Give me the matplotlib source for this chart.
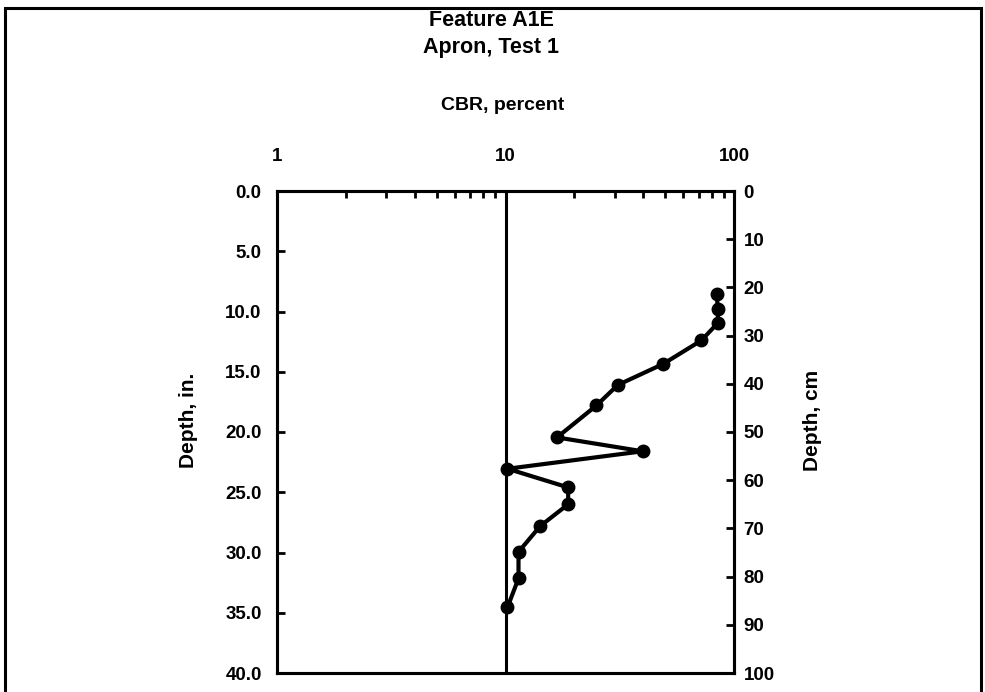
import matplotlib
matplotlib.use("Agg")
import matplotlib.pyplot as plt
from matplotlib.ticker import NullFormatter, LogLocator
from matplotlib.patches import Rectangle

plt.rcParams['font.family'] = ['Liberation Sans', 'DejaVu Sans']
plt.rcParams['font.weight'] = 'bold'

title_lines = ["Feature A1E", "Apron, Test 1"]
x_label = "CBR, percent"
y_label_left = "Depth, in."
y_label_right = "Depth, cm"

cbr = [84, 85, 85, 72, 49, 31, 25, 16.8, 39.8, 10.2, 18.8, 18.8, 14.2, 11.4, 11.4, 10.2]
depth_in = [8.55, 9.8, 10.95, 12.4, 14.35, 16.1, 17.8, 20.45, 21.6, 23.05, 24.6, 26.0, 27.8, 29.95, 32.15, 34.55]

ref_cbr = 10
x_ticks = [1, 10, 100]
y_ticks_in = [0, 5, 10, 15, 20, 25, 30, 35, 40]
y_ticks_cm = [0, 10, 20, 30, 40, 50, 60, 70, 80, 90, 100]

fig = plt.figure(figsize=(9.85, 6.92), dpi=100)
ax = fig.add_axes([277/985, 19/692, 457/985, 482/692])

ax.plot(cbr, depth_in, color='black', lw=3, marker='o', ms=9, zorder=3, clip_on=False)
ax.axvline(ref_cbr, color='black', lw=2.2, zorder=2)

ax.set_xscale('log')
ax.set_xlim(1, 100)
ax.set_ylim(40, 0)
ax.xaxis.set_ticks_position('top')
ax.xaxis.set_label_position('top')
ax.set_xticks(x_ticks)
ax.set_xticklabels([str(v) for v in x_ticks])
ax.xaxis.set_minor_locator(LogLocator(base=10, subs=range(2, 10)))
ax.xaxis.set_minor_formatter(NullFormatter())
ax.tick_params(axis='x', which='major', direction='in', length=0, pad=19, labelsize=13.5)
ax.tick_params(axis='x', which='minor', direction='in', length=5, width=2)

ax.set_yticks(y_ticks_in)
ax.set_yticklabels([f"{v:.1f}" for v in y_ticks_in])
ax.tick_params(axis='y', which='major', direction='in', length=6, width=2, pad=11, labelsize=13.5)

for s in ax.spines.values():
    s.set_linewidth(2.2)

ax2 = ax.twinx()
ax2.set_ylim(100, 0)
ax2.set_yticks(y_ticks_cm)
ax2.set_yticklabels([str(v) for v in y_ticks_cm])
ax2.tick_params(axis='y', direction='in', length=6, width=2, pad=7, labelsize=13.5)
for s in ax2.spines.values():
    s.set_linewidth(2.2)

fig.text(0.4985, 1 - 20/692, title_lines[0], ha='center', va='center', fontsize=15.5, fontweight='bold')
fig.text(0.4985, 1 - 48/692, title_lines[1], ha='center', va='center', fontsize=15.5, fontweight='bold')
fig.text(503/985, 1 - 105/692, x_label, ha='center', va='center', fontsize=14, fontweight='bold')
fig.text(188/985, 1 - 420/692, y_label_left, ha='center', va='center', rotation=90, fontsize=15, fontweight='bold')
fig.text(812/985, 1 - 420/692, y_label_right, ha='center', va='center', rotation=90, fontsize=15, fontweight='bold')

fig.patches.append(Rectangle((5/985, -0.05), 976/985, 1.05 - 8/692, transform=fig.transFigure,
                             fill=False, edgecolor='black', lw=2.2))

fig.savefig("out.png", dpi=100)
